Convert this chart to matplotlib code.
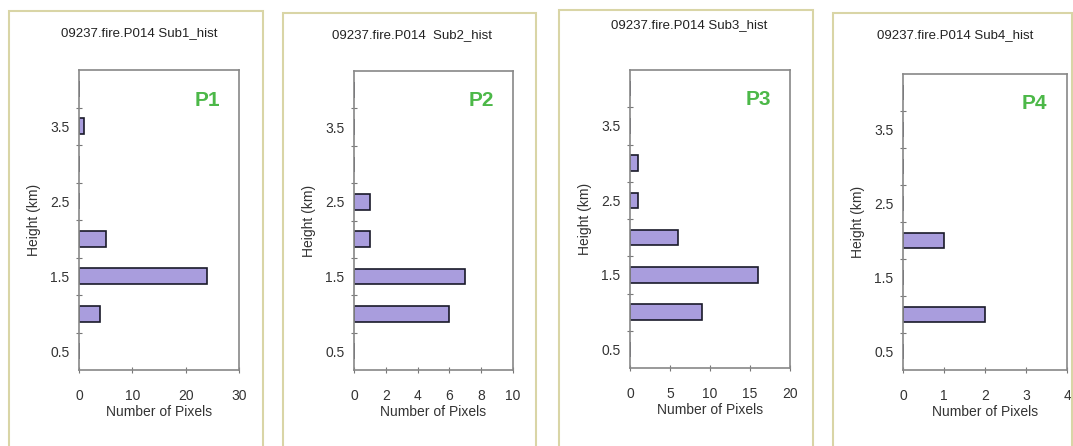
import numpy as np
import matplotlib.pyplot as plt
from matplotlib.patches import Rectangle

plt.rcParams['font.family'] = ['Liberation Sans', 'DejaVu Sans']

# height categories (km) and pixel counts per sub-region
heights = [0.5, 1.0, 1.5, 2.0, 2.5, 3.0, 3.5, 4.0]
sub1 = [0, 4, 24, 5, 0, 0, 1, 0]
sub2 = [0, 6, 7, 1, 1, 0, 0, 0]
sub3 = [0, 9, 16, 6, 1, 1, 0, 0]
sub4 = [0, 2, 0, 1, 0, 0, 0, 0]
titles = ["09237.fire.P014 Sub1_hist", "09237.fire.P014  Sub2_hist",
          "09237.fire.P014 Sub3_hist", "09237.fire.P014 Sub4_hist"]
tags = ["P1", "P2", "P3", "P4"]
xmax = [30, 10, 20, 4]
xstep = [10, 2, 5, 1]
ylabels = ["0.5", "1.5", "2.5", "3.5"]

W, H = 1073, 446
fig = plt.figure(figsize=(W / 100, H / 100), dpi=100)

# panel frames (left, right, top) and axes boxes (left, right, top, bottom) in pixels
frames = [(9, 263, 11), (283, 536, 13), (559, 813, 10), (833, 1072, 13)]
boxes = [(79, 239, 70, 370), (354, 513, 71, 370), (630, 790, 70, 368), (903, 1067, 74, 370)]
title_y = [33, 35, 25, 35]

data = [sub1, sub2, sub3, sub4]
for i in range(4):
    fl, fr, ft = frames[i]
    fig.add_artist(Rectangle((fl / W, -0.1), (fr - fl) / W, 1.1 - ft / H,
                             transform=fig.transFigure, fill=False,
                             edgecolor='#d9d5a6', linewidth=1.5))
    l, r, t, b = boxes[i]
    ax = fig.add_axes([l / W, 1 - b / H, (r - l) / W, (b - t) / H])
    ax.barh(heights, data[i], height=0.21, color='#a99ddd', edgecolor='#1a1a2a', linewidth=1.2)
    ax.set_ylim(0.25, 4.25)
    ax.set_xlim(0, xmax[i])
    ax.set_xticks(np.arange(0, xmax[i] + 1, xstep[i]))
    # category boundaries as tick marks, labels on every other category
    ax.set_yticks(np.arange(0.75, 4.0, 0.5))
    ax.set_yticklabels([])
    ax.set_yticks([0.5, 1.5, 2.5, 3.5], minor=True)
    ax.set_yticklabels(ylabels, minor=True)
    ax.tick_params(axis='y', which='major', direction='inout', length=4, color='#777777')
    ax.tick_params(axis='y', which='minor', length=0, pad=7, labelsize=10, labelcolor='#333333')
    ax.tick_params(axis='x', direction='inout', length=4, color='#777777', pad=12,
                   labelsize=10, labelcolor='#333333')
    for s in ax.spines.values():
        s.set_color('#888888')
        s.set_linewidth(1.2)
    ax.set_xlabel("Number of Pixels", fontsize=10, color='#333333', labelpad=1)
    ax.set_ylabel("Height (km)", fontsize=10, color='#333333')
    ax.yaxis.set_label_coords(-38 / (r - l), 0.5)
    ax.text(0.88, 0.9, tags[i], transform=ax.transAxes, ha='right', va='center',
            fontsize=15, fontweight='bold', color='#4cb848')
    fig.text(((fl + fr) / 2 + 3) / W, 1 - title_y[i] / H, titles[i],
             ha='center', va='center', fontsize=9.5, color='#222222')

plt.savefig('out.png', dpi=100)
